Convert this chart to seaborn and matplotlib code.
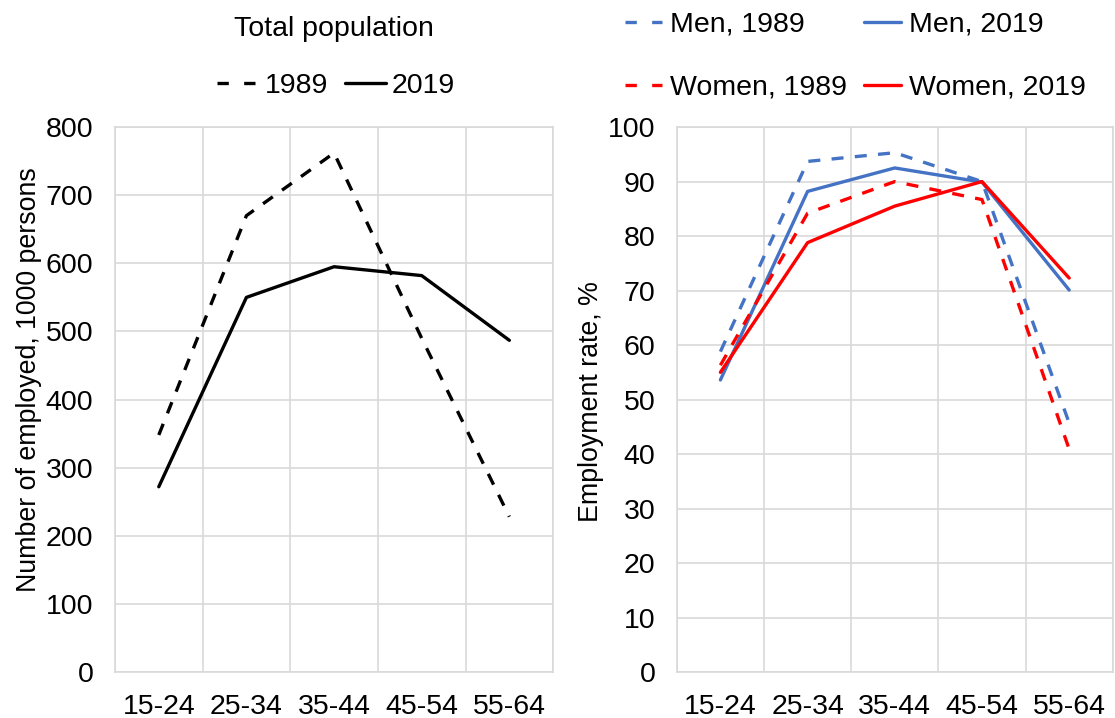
import matplotlib
matplotlib.use("Agg")
import matplotlib.pyplot as plt
import seaborn as sns
import pandas as pd

# Age groups
age_groups = ["15-24", "25-34", "35-44", "45-54", "55-64"]

# Number of employed, 1000 persons
total_1989 = [348, 670, 762, 490, 228]
total_2019 = [272, 550, 595, 582, 487]

# Employment rate, %
men_1989 = [58.8, 93.7, 95.3, 90.0, 45.7]
men_2019 = [53.6, 88.2, 92.5, 89.9, 70.1]
women_1989 = [56.3, 84.2, 90.0, 86.7, 40.9]
women_2019 = [55.0, 78.8, 85.5, 90.0, 72.3]

sns.set_theme(style="white")
plt.rcParams["font.family"] = ["Liberation Sans", "DejaVu Sans"]
plt.rcParams["text.color"] = "black"

FS = 20.5
FS_LABEL = 19.3
GRID = "#d9d9d9"
BLUE = "#4472c4"
RED = "#ff0000"
DASH = (3.6, 3.4)
LEG_DASH = (3.4, 4.6)
LW = 2.4

fig = plt.figure(figsize=(11.15, 7.18), dpi=100)
ax1 = fig.add_axes([0.1031, 0.064, 0.393, 0.759])
ax2 = fig.add_axes([0.607, 0.064, 0.391, 0.759])


def long_frame(series):
    rows = []
    for name, vals in series.items():
        for g, v in zip(age_groups, vals):
            rows.append({"age": g, "value": v, "series": name})
    return pd.DataFrame(rows)


def style_axis(ax, ymax, step):
    ax.set_xlim(-0.5, len(age_groups) - 0.5)
    ax.set_ylim(0, ymax)
    ax.set_yticks(range(0, ymax + 1, step))
    ax.set_xticks(range(len(age_groups)))
    ax.set_xticklabels(age_groups)
    ax.set_xticks([i + 0.5 for i in range(-1, len(age_groups))], minor=True)
    ax.grid(False)
    ax.grid(True, axis="y", which="major", color=GRID, lw=1.2)
    ax.grid(True, axis="x", which="minor", color=GRID, lw=1.2)
    ax.tick_params(axis="both", which="both", length=0, labelsize=FS,
                   colors="black")
    ax.tick_params(axis="x", pad=15.5)
    ax.tick_params(axis="y", pad=15.5)
    for s in ax.spines.values():
        s.set_color(GRID)
        s.set_linewidth(1.2)
    ax.set_axisbelow(True)
    ax.set_xlabel("")


def dash_legend(leg):
    for line in leg.get_lines():
        if line.get_linestyle() not in ("-", "solid"):
            line.set_dashes(LEG_DASH)


# Left panel: total population
df1 = long_frame({"1989": total_1989, "2019": total_2019})
sns.lineplot(data=df1, x="age", y="value", hue="series", style="series",
             palette={"1989": "black", "2019": "black"},
             dashes={"1989": DASH, "2019": ""},
             linewidth=LW, ax=ax1, sort=False)
style_axis(ax1, 800, 100)
ax1.set_ylabel("Number of employed, 1000 persons", fontsize=FS_LABEL,
               labelpad=3, color="black")
ax1.yaxis.label.set_y(0.536)
ax1.text(0.5, 1.18, "Total population", transform=ax1.transAxes,
         ha="center", va="center", fontsize=FS, color="black")
h, l = ax1.get_legend_handles_labels()
leg1 = ax1.legend(h, l, loc="center", bbox_to_anchor=(0.505, 1.076), ncol=2,
                  frameon=False, fontsize=FS, handlelength=1.45,
                  handletextpad=0.2, columnspacing=0.6, borderaxespad=0,
                  borderpad=0)
dash_legend(leg1)

# Right panel: employment rate by sex
df2 = long_frame({"Men, 1989": men_1989, "Men, 2019": men_2019,
                  "Women, 1989": women_1989, "Women, 2019": women_2019})
sns.lineplot(data=df2, x="age", y="value", hue="series", style="series",
             palette={"Men, 1989": BLUE, "Men, 2019": BLUE,
                      "Women, 1989": RED, "Women, 2019": RED},
             dashes={"Men, 1989": DASH, "Men, 2019": "",
                     "Women, 1989": DASH, "Women, 2019": ""},
             linewidth=LW, ax=ax2, sort=False)
style_axis(ax2, 100, 10)
ax2.set_ylabel("Employment rate, %", fontsize=FS_LABEL, labelpad=3,
               color="black")
ax2.yaxis.label.set_y(0.497)
h, l = ax2.get_legend_handles_labels()
order = [0, 2, 1, 3]
leg2 = ax2.legend([h[i] for i in order], [l[i] for i in order],
                  loc="center left", bbox_to_anchor=(-0.118, 1.13), ncol=2,
                  frameon=False, fontsize=FS, handlelength=1.3,
                  handletextpad=0.28, columnspacing=0.6, labelspacing=1.3,
                  borderaxespad=0, borderpad=0)
dash_legend(leg2)

fig.savefig("out.png", dpi=100)
